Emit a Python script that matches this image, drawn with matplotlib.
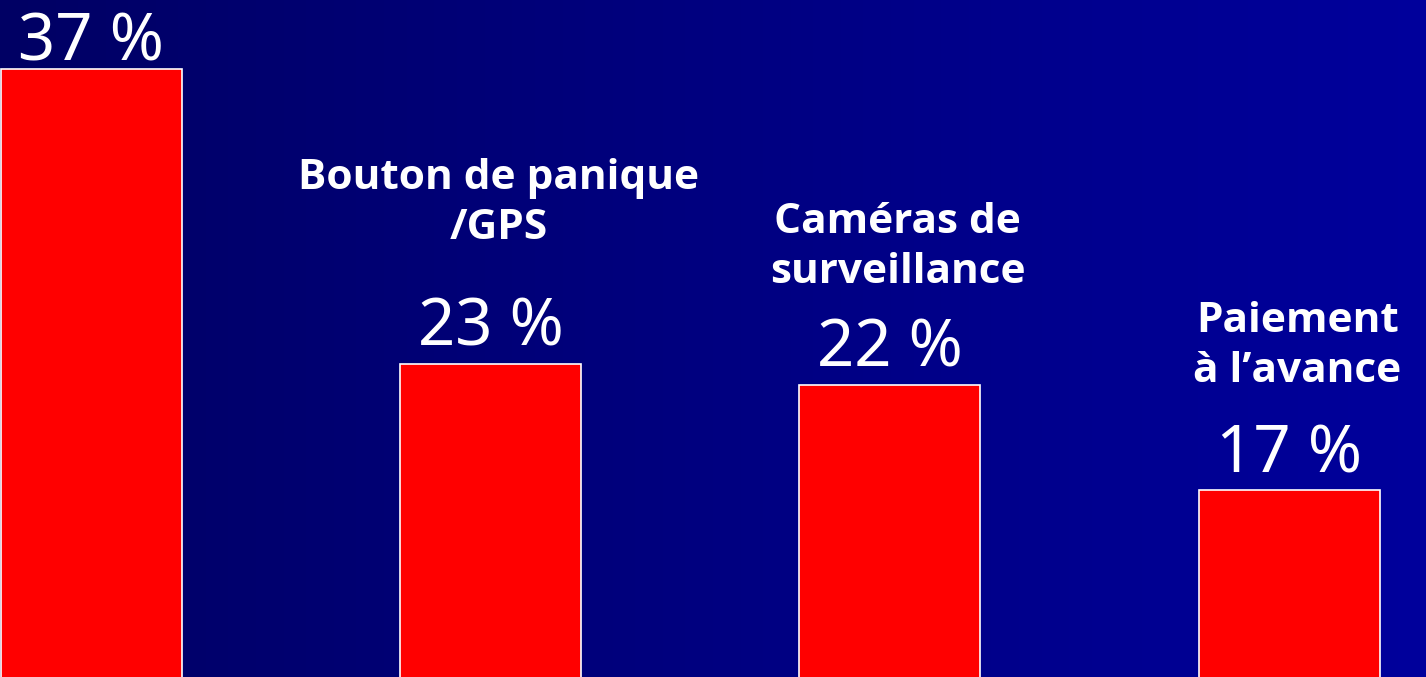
import numpy as np
import matplotlib
matplotlib.use("Agg")
import matplotlib.pyplot as plt
from matplotlib.colors import LinearSegmentedColormap

# chart data
categories = ["", "Bouton de panique\n/GPS", "Caméras de\nsurveillance", "Paiement\nà l\u2019avance"]
values = [37, 23, 22, 17]
value_labels = ["37 %", "23 %", "22 %", "17 %"]

# layout: how far (px) the last line of each category label sits above its bar
label_lift = [0, 125, 102, 108]

plt.rcParams["font.family"] = ["Noto Sans", "DejaVu Sans"]

fig = plt.figure(figsize=(14.26, 6.77), dpi=100)

# horizontal navy -> blue gradient behind everything
bg = fig.add_axes([0, 0, 1, 1], zorder=0)
cmap = LinearSegmentedColormap.from_list("bg", ["#000064", "#00009c"])
bg.imshow(np.linspace(0, 1, 256)[None, :], aspect="auto", cmap=cmap, extent=[0, 1, 0, 1])
bg.set_axis_off()

ax = fig.add_axes([0, 0, 1, 1], zorder=1)
ax.patch.set_alpha(0)
x = np.arange(len(values))
ax.bar(x, values, width=0.453, color="#ff0000", edgecolor="white", linewidth=1.2)
ax.set_xlim(-0.2287, 3.3426)
ax.set_ylim(8.12, 40.27)
ax.set_axis_off()

top = 37.42  # value labels can't go past the top edge
for xi, v, lab in zip(x, values, value_labels):
    ax.text(xi, min(v + 0.85, top), lab, ha="center", va="baseline",
            color="white", fontsize=47)

px = 72 / fig.dpi
for xi, v, cat, lift in zip(x, values, categories, label_lift):
    if not cat:
        continue
    ax.annotate(cat, (xi, v), xytext=(8 * px, lift * px), textcoords="offset points",
                ha="center", va="baseline", color="white", fontsize=30.5,
                fontweight="bold", family=["Open Sans", "DejaVu Sans"],
                linespacing=1.28, multialignment="center")

fig.savefig("out.png", dpi=100)
